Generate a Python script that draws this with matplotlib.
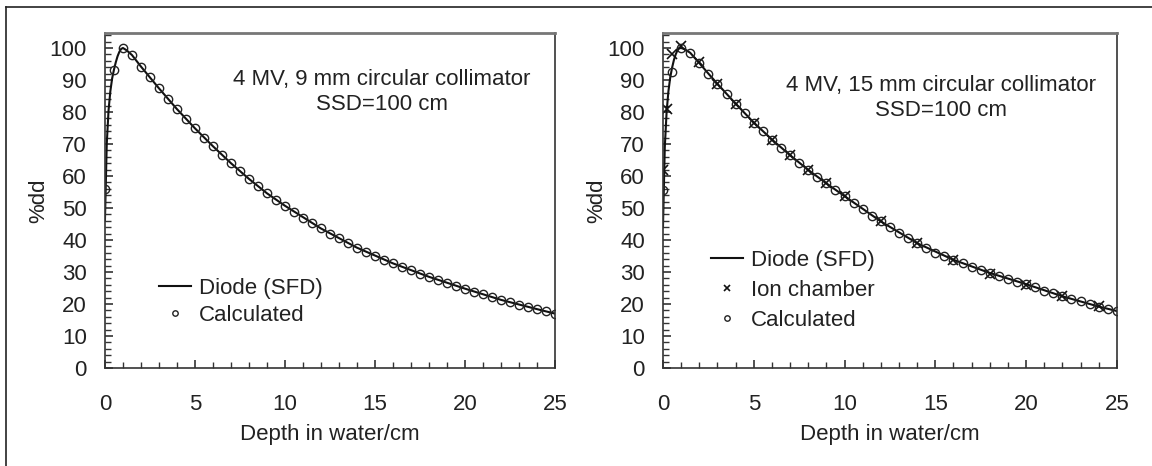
import matplotlib
matplotlib.use("Agg")
import matplotlib.pyplot as plt
from matplotlib.lines import Line2D
from matplotlib.ticker import MultipleLocator

plt.rcParams['font.family'] = ['Liberation Sans', 'DejaVu Sans']
plt.rcParams['font.size'] = 16

# ---- 9 mm collimator ----
depth_calc = [i * 0.5 for i in range(51)]

calc_9mm = [56.0, 93.0, 100.0, 97.8, 94.2, 90.8, 87.4, 84.1, 80.9, 77.8,
            74.9, 72.0, 69.3, 66.6, 64.0, 61.6, 59.1, 56.8, 54.6, 52.6,
            50.7, 48.8, 47.0, 45.3, 43.6, 42.0, 40.5, 39.0, 37.6, 36.3,
            35.0, 33.8, 32.7, 31.6, 30.5, 29.5, 28.5, 27.5, 26.6, 25.7,
            24.8, 23.9, 23.0, 22.1, 21.3, 20.5, 19.8, 19.1, 18.4, 17.7,
            17.0]

diode_depth = [0.0, 0.1, 0.2, 0.3, 0.4, 0.5, 0.6, 0.7, 0.8, 0.9, 1.0, 1.2,
               1.5, 2.0, 2.5, 3.0, 4.0, 5.0, 6.0, 7.0, 8.0, 9.0, 10.0, 12.0,
               14.0, 16.0, 18.0, 20.0, 22.0, 24.0, 25.0]

diode_9mm = [46.0, 70.0, 80.5, 86.5, 90.5, 93.2, 95.5, 97.4, 98.8, 99.7,
             100.0, 99.3, 97.8, 94.2, 90.8, 87.4, 80.9, 74.9, 69.3, 64.0,
             59.1, 54.6, 50.7, 43.6, 37.6, 32.7, 28.5, 24.8, 21.3, 18.4,
             17.0]

# ---- 15 mm collimator ----
calc_15mm = [55.5, 92.5, 100.0, 98.5, 95.3, 92.0, 88.8, 85.7, 82.6, 79.6,
             76.7, 74.0, 71.4, 68.9, 66.5, 64.2, 61.9, 59.8, 57.7, 55.7,
             53.7, 51.6, 49.6, 47.6, 45.8, 44.0, 42.2, 40.6, 39.0, 37.5,
             36.0, 34.9, 33.8, 32.7, 31.7, 30.7, 29.7, 28.8, 27.9, 27.0,
             26.2, 25.2, 24.2, 23.3, 22.4, 21.6, 20.8, 20.0, 19.2, 18.5,
             17.8]

diode_15mm = [44.0, 69.0, 80.0, 86.5, 90.8, 93.8, 96.2, 98.0, 99.3, 99.9,
              100.0, 99.6, 98.5, 95.3, 92.0, 88.8, 82.6, 76.7, 71.4, 66.5,
              61.9, 57.7, 53.7, 45.8, 39.0, 33.8, 29.7, 26.2, 22.4, 19.2,
              17.8]

ion_depth = [0.0, 0.2, 0.5, 1.0, 2.0, 3.0, 4.0, 5.0, 6.0, 7.0, 8.0, 9.0,
             10.0, 12.0, 14.0, 16.0, 18.0, 20.0, 22.0, 24.0]
ion_15mm = [62.0, 81.0, 98.0, 100.5, 95.5, 88.8, 82.6, 76.7, 71.4, 66.5,
            61.9, 57.7, 53.7, 45.8, 39.2, 33.6, 29.4, 25.9, 22.5, 19.3]

fig = plt.figure(figsize=(11.52, 4.66), dpi=100)
ax1 = fig.add_axes([0.0911, 0.2103, 0.3906, 0.719])
ax2 = fig.add_axes([0.5755, 0.2103, 0.394, 0.719])

# thin frame around the figure (top and left edges)
fig.add_artist(Line2D([0.0052, 1.0], [0.985, 0.985], transform=fig.transFigure,
                      color='#222222', lw=1.2))
fig.add_artist(Line2D([0.0052, 0.0052], [0.0, 0.985], transform=fig.transFigure,
                      color='#222222', lw=1.2))

circ = dict(marker='o', linestyle='none', markersize=6, markerfacecolor='none',
            markeredgecolor='#222222', markeredgewidth=1.0)

ax1.plot(diode_depth, diode_9mm, color='#111111', lw=1.5, label='Diode (SFD)')
ax1.plot(depth_calc, calc_9mm, label='Calculated', **circ)

ax2.plot(diode_depth, diode_15mm, color='#111111', lw=1.5, label='Diode (SFD)')
ax2.plot(ion_depth, ion_15mm, marker='x', linestyle='none', markersize=7,
         color='#111111', markeredgewidth=1.2, label='Ion chamber')
ax2.plot(depth_calc, calc_15mm, label='Calculated', **circ)

ax1.text(0.616, 0.824, '4 MV, 9 mm circular collimator\nSSD=100 cm',
         transform=ax1.transAxes, ha='center', va='center',
         multialignment='center', color='#222222', linespacing=1.25)
ax2.text(0.612, 0.807, '4 MV, 15 mm circular collimator\nSSD=100 cm',
         transform=ax2.transAxes, ha='center', va='center',
         multialignment='center', color='#222222', linespacing=1.25)

legend_pos = {ax1: ((0.12, 0.27), 0.3), ax2: ((0.105, 0.352), 0.4)}

for ax in (ax1, ax2):
    ax.set_xlim(0, 25)
    ax.set_ylim(0, 104.7)
    ax.xaxis.set_major_locator(MultipleLocator(5))
    ax.xaxis.set_minor_locator(MultipleLocator(1))
    ax.yaxis.set_major_locator(MultipleLocator(10))
    ax.yaxis.set_minor_locator(MultipleLocator(2))
    ax.tick_params(which='both', direction='in', top=False, right=False,
                   color='#333333', labelcolor='#222222', labelsize=16)
    ax.tick_params(axis='y', which='major', length=6, width=1.2, pad=13)
    ax.tick_params(axis='y', which='minor', length=4, width=1.0)
    ax.tick_params(axis='x', which='major', length=6, width=1.2, pad=19)
    ax.tick_params(axis='x', which='minor', length=4, width=1.0)
    for side in ('left', 'bottom', 'right'):
        ax.spines[side].set_color('#333333')
        ax.spines[side].set_linewidth(1.2)
    ax.spines['top'].set_color('#777777')
    ax.spines['top'].set_linewidth(2.0)
    ax.set_xlabel('Depth in water/cm', color='#222222', labelpad=6)
    ax.set_ylabel('%dd', color='#222222', labelpad=0)
    anchor, spacing = legend_pos[ax]
    ax.legend(loc='upper left', bbox_to_anchor=anchor, frameon=False,
              borderpad=0, borderaxespad=0, handlelength=1.45,
              handletextpad=0.35, labelspacing=spacing, markerscale=0.65,
              fontsize=16, labelcolor='#222222')

fig.savefig('out.png', dpi=100, facecolor='white')
